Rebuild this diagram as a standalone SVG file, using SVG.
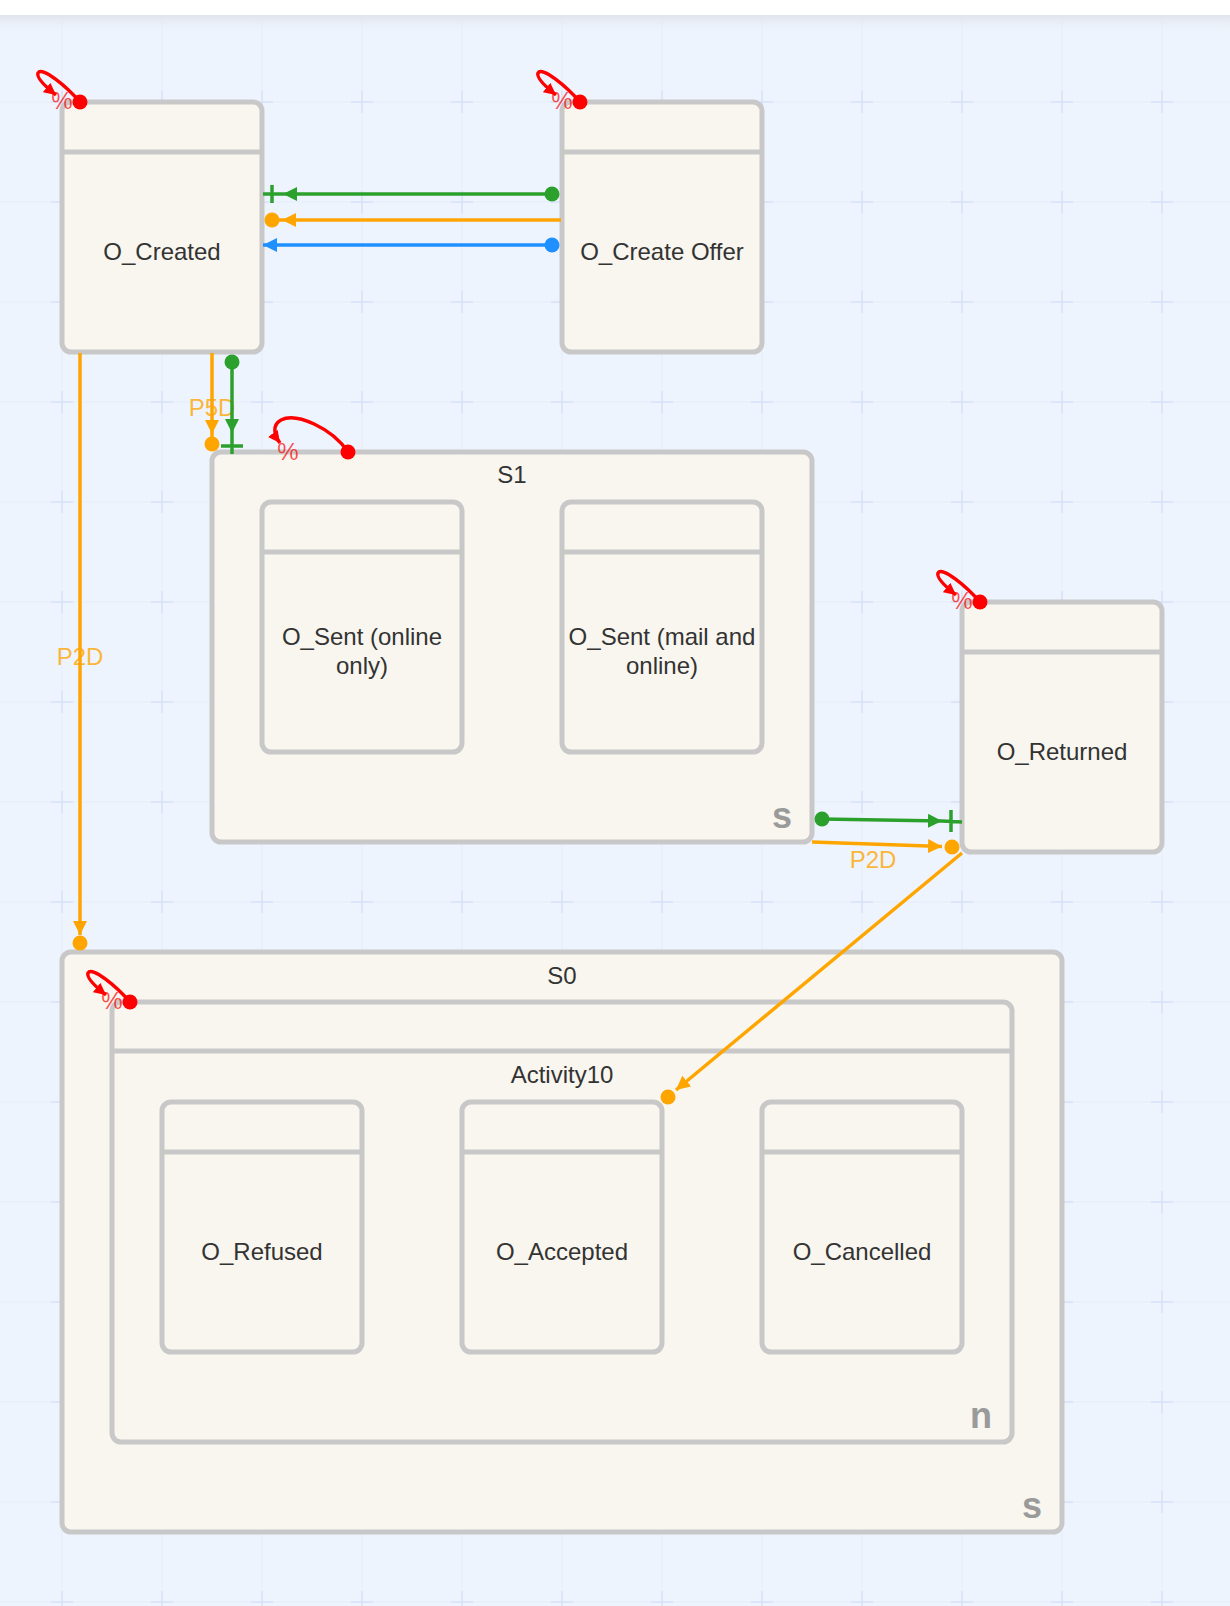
<svg xmlns="http://www.w3.org/2000/svg" width="1230" height="1606" viewBox="0 0 1230 1606">
<defs>
<style>
.box{fill:#f8f6ee;stroke:#c8c8c8;stroke-width:5}
.hdr{stroke:#c8c8c8;stroke-width:5}
.t{font-family:"Liberation Sans",Arial,sans-serif;font-size:24px;fill:#333;text-anchor:middle}
.k{font-family:"Liberation Sans",Arial,sans-serif;font-size:36px;font-weight:bold;fill:#9a9a9a;text-anchor:end}
.cl{font-family:"Liberation Sans",Arial,sans-serif;font-size:24px;fill:#ffa500;fill-opacity:0.8;text-anchor:middle}
.pc{font-family:"Liberation Sans",Arial,sans-serif;font-size:24px;fill:#ff0000;fill-opacity:0.7;text-anchor:middle}
.g{stroke:#2ca02c;stroke-width:3.5;fill:none}
.o{stroke:#ffa500;stroke-width:3.5;fill:none}
.b{stroke:#1e90ff;stroke-width:3.5;fill:none}
.r{stroke:#ff0000;stroke-width:3.5;fill:none}
</style>
<marker id="arrG" viewBox="0 0 14 14" refX="14" refY="7" markerWidth="14" markerHeight="14" markerUnits="userSpaceOnUse" orient="auto"><path d="M0,0 L14,7 L0,14 z" fill="#2ca02c"/></marker>
<marker id="arrO" viewBox="0 0 14 14" refX="14" refY="7" markerWidth="14" markerHeight="14" markerUnits="userSpaceOnUse" orient="auto"><path d="M0,0 L14,7 L0,14 z" fill="#ffa500"/></marker>
<marker id="arrB" viewBox="0 0 14 14" refX="14" refY="7" markerWidth="14" markerHeight="14" markerUnits="userSpaceOnUse" orient="auto"><path d="M0,0 L14,7 L0,14 z" fill="#1e90ff"/></marker>
<marker id="arrR" viewBox="0 0 12 12" refX="12" refY="6" markerWidth="12" markerHeight="12" markerUnits="userSpaceOnUse" orient="auto"><path d="M0,0 L12,6 L0,12 z" fill="#ff0000"/></marker>
<marker id="dotG" viewBox="0 0 16 16" refX="8" refY="8" markerWidth="16" markerHeight="16" markerUnits="userSpaceOnUse"><circle cx="8" cy="8" r="7.5" fill="#2ca02c"/></marker>
<marker id="dotB" viewBox="0 0 16 16" refX="8" refY="8" markerWidth="16" markerHeight="16" markerUnits="userSpaceOnUse"><circle cx="8" cy="8" r="7.5" fill="#1e90ff"/></marker>
<marker id="dotR" viewBox="0 0 16 16" refX="8" refY="8" markerWidth="16" markerHeight="16" markerUnits="userSpaceOnUse"><circle cx="8" cy="8" r="7.5" fill="#ff0000"/></marker>
<pattern id="grid" x="12" y="52" width="100" height="100" patternUnits="userSpaceOnUse">
<path d="M50,0 V100 M0,50 H100" stroke="#e5ecfb" stroke-width="1" fill="none"/>
<path d="M39,50 H61 M50,39 V61" stroke="#d7e1f8" stroke-width="1.5" fill="none"/>
</pattern>
<linearGradient id="sh" x1="0" y1="0" x2="0" y2="1">
<stop offset="0" stop-color="#dfe3ec"/>
<stop offset="1" stop-color="#eef4fd" stop-opacity="0"/>
</linearGradient>
</defs>

<g id="background">
<rect x="0" y="0" width="1230" height="1606" fill="#eef4fd"/>
<rect x="0" y="0" width="1230" height="1606" fill="url(#grid)"/>
<rect x="0" y="15" width="1230" height="20" fill="url(#sh)"/>
<rect x="0" y="0" width="1230" height="15" fill="#ffffff"/>
</g>

<g id="O_Created">
<rect class="box" x="62" y="102" width="200" height="250" rx="9"/>
<line class="hdr" x1="62" y1="152" x2="262" y2="152"/>
<text class="t" x="162" y="260">O_Created</text>
</g>

<g id="O_Create_Offer">
<rect class="box" x="562" y="102" width="200" height="250" rx="9"/>
<line class="hdr" x1="562" y1="152" x2="762" y2="152"/>
<text class="t" x="662" y="260">O_Create Offer</text>
</g>

<g id="S1">
<rect class="box" x="212" y="452" width="600" height="390" rx="9"/>
<text class="t" x="512" y="483">S1</text>
<text class="k" x="792" y="828">s</text>
</g>

<g id="O_Sent_online_only">
<rect class="box" x="262" y="502" width="200" height="250" rx="9"/>
<line class="hdr" x1="262" y1="552" x2="462" y2="552"/>
<text class="t" x="362" y="645">O_Sent (online</text>
<text class="t" x="362" y="674">only)</text>
</g>

<g id="O_Sent_mail_and_online">
<rect class="box" x="562" y="502" width="200" height="250" rx="9"/>
<line class="hdr" x1="562" y1="552" x2="762" y2="552"/>
<text class="t" x="662" y="645">O_Sent (mail and</text>
<text class="t" x="662" y="674">online)</text>
</g>

<g id="O_Returned">
<rect class="box" x="962" y="602" width="200" height="250" rx="9"/>
<line class="hdr" x1="962" y1="652" x2="1162" y2="652"/>
<text class="t" x="1062" y="760">O_Returned</text>
</g>

<g id="S0">
<rect class="box" x="62" y="952" width="1000" height="580" rx="9"/>
<text class="t" x="562" y="984">S0</text>
<text class="k" x="1042" y="1518">s</text>
</g>

<g id="Activity10">
<rect class="box" x="112" y="1002" width="900" height="440" rx="9"/>
<line class="hdr" x1="112" y1="1051" x2="1012" y2="1051"/>
<text class="t" x="562" y="1083">Activity10</text>
<text class="k" x="992" y="1428">n</text>
</g>

<g id="O_Refused">
<rect class="box" x="162" y="1102" width="200" height="250" rx="9"/>
<line class="hdr" x1="162" y1="1152" x2="362" y2="1152"/>
<text class="t" x="262" y="1260">O_Refused</text>
</g>

<g id="O_Accepted">
<rect class="box" x="462" y="1102" width="200" height="250" rx="9"/>
<line class="hdr" x1="462" y1="1152" x2="662" y2="1152"/>
<text class="t" x="562" y="1260">O_Accepted</text>
</g>

<g id="O_Cancelled">
<rect class="box" x="762" y="1102" width="200" height="250" rx="9"/>
<line class="hdr" x1="762" y1="1152" x2="962" y2="1152"/>
<text class="t" x="862" y="1260">O_Cancelled</text>
</g>

<g id="connectors">
<!-- O_Create Offer -> O_Created -->
<path class="g" d="M552,194 H283" marker-start="url(#dotG)" marker-end="url(#arrG)"/>
<path class="g" d="M283,194 H263 M272,185 V203"/>
<path class="o" d="M561,220 H282" marker-end="url(#arrO)"/>
<path class="o" d="M282,220 H272"/>
<circle cx="272" cy="220" r="7.5" fill="#ffa500"/>
<path class="b" d="M552,245 H263" marker-start="url(#dotB)" marker-end="url(#arrB)"/>

<!-- O_Created -> S1 -->
<path class="o" d="M212,353 V434" marker-end="url(#arrO)"/>
<path class="o" d="M212,434 V444"/>
<circle cx="212" cy="444" r="7.5" fill="#ffa500"/>
<text class="cl" x="212" y="416">P5D</text>
<path class="g" d="M232,362 V433" marker-start="url(#dotG)" marker-end="url(#arrG)"/>
<path class="g" d="M232,433 V454 M221,446 H243"/>

<!-- O_Created -> S0 -->
<path class="o" d="M80,353 V935" marker-end="url(#arrO)"/>
<circle cx="80" cy="943" r="7.5" fill="#ffa500"/>
<text class="cl" x="80" y="665">P2D</text>

<!-- S1 -> O_Returned -->
<path class="g" d="M822,819 L942,821" marker-start="url(#dotG)" marker-end="url(#arrG)"/>
<path class="g" d="M942,821 L962,822 M951,810 V832"/>
<path class="o" d="M812,842 L942,846.6" marker-end="url(#arrO)"/>
<circle cx="952" cy="847" r="7.5" fill="#ffa500"/>
<text class="cl" x="873" y="868">P2D</text>

<!-- O_Returned -> O_Accepted -->
<path class="o" d="M962,853 L676,1090" marker-end="url(#arrO)"/>
<circle cx="668" cy="1097" r="7.5" fill="#ffa500"/>

<!-- self loops -->
<g transform="translate(62,102)">
<path class="r" d="M18,0 C4,-16 -20,-36 -24,-29 C-26,-24 -16,-15 -6,-7" marker-start="url(#dotR)" marker-end="url(#arrR)"/>
<text class="pc" x="0" y="7">%</text>
</g>
<g transform="translate(562,102)">
<path class="r" d="M18,0 C4,-16 -20,-36 -24,-29 C-26,-24 -16,-15 -6,-7" marker-start="url(#dotR)" marker-end="url(#arrR)"/>
<text class="pc" x="0" y="7">%</text>
</g>
<g transform="translate(962,602)">
<path class="r" d="M18,0 C4,-16 -20,-36 -24,-29 C-26,-24 -16,-15 -6,-7" marker-start="url(#dotR)" marker-end="url(#arrR)"/>
<text class="pc" x="0" y="7">%</text>
</g>
<g transform="translate(112,1002)">
<path class="r" d="M18,0 C4,-16 -20,-36 -24,-29 C-26,-24 -16,-15 -6,-7" marker-start="url(#dotR)" marker-end="url(#arrR)"/>
<text class="pc" x="0" y="7">%</text>
</g>
<g>
<path class="r" d="M348,452 C332,428 296,412 281,420 C272,425 274,435 280,443" marker-start="url(#dotR)" marker-end="url(#arrR)"/>
<text class="pc" x="288" y="460">%</text>
</g>
</g>
</svg>
